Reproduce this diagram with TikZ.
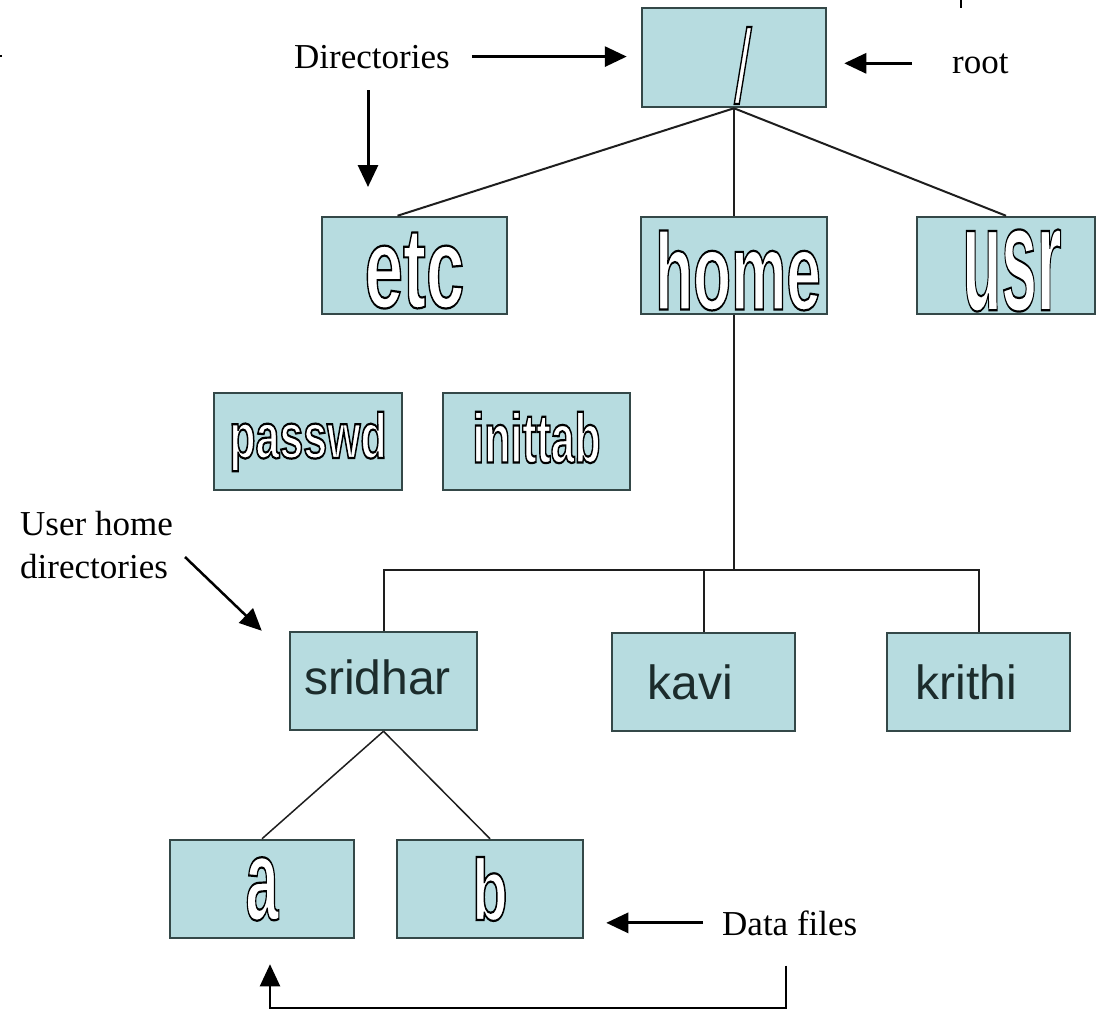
\documentclass[tikz,border=0pt]{standalone}
\usepackage{fontspec}
\setmainfont{Liberation Serif}
\setsansfont{Liberation Sans}
\usepackage{graphicx}
\usetikzlibrary{arrows.meta}

\definecolor{boxfill}{RGB}{183,220,224}
\definecolor{boxline}{RGB}{52,72,72}
\definecolor{nametext}{RGB}{28,44,44}
\definecolor{treeline}{RGB}{30,30,30}

% white letters with a dark rim (fill+stroke render mode), squeezed sideways
\newcommand{\hollow}[3]{\scalebox{#2}[1]{\fontsize{#1}{#1}\selectfont
  \special{pdf:literal direct 2 Tr 2.2 w 0 0 0 RG}#3\special{pdf:literal direct 0 Tr}}}
% move a label inside its box without changing the box size
\newcommand{\nudge}[2]{\raisebox{#1}[\height][\depth]{#2}}

\tikzset{
  fsbox/.style={draw=boxline, fill=boxfill, line width=2.5pt, inner sep=0pt,
    minimum height=97pt},
  hollowbox/.style={fsbox, text=white, font=\sffamily\bfseries},
  namebox/.style={fsbox, minimum height=98pt, text=nametext,
    font=\sffamily\fontsize{48}{48}\selectfont},
  note/.style={inner sep=0pt, font=\fontsize{35}{35}\selectfont},
  branch/.style={draw=treeline, line width=2pt},
  pointer/.style={line width=3pt, -{Triangle[length=22pt,width=20pt]}}
}

\begin{document}
\begin{tikzpicture}[x=1pt,y=-1pt]
\useasboundingbox (0,0) rectangle (1096,1009);

% top level
\node[hollowbox, minimum width=184pt, minimum height=99pt] (root) at (734,57.5)
  {\hspace*{18pt}\nudge{-8pt}{\mdseries\hollow{105}{0.6}{/}}};
\node[hollowbox, minimum width=185pt] (etc) at (414.5,265.5)
  {\nudge{-5pt}{\hollow{115}{0.6}{etc}}};
\node[hollowbox, minimum width=186pt] (home) at (734,265.5)
  {\hspace*{8pt}\nudge{-5pt}{\hollow{109}{0.57}{home}}};
\node[hollowbox, minimum width=178pt] (usr) at (1006,265.5)
  {\hspace*{12pt}\nudge{-5pt}{\hollow{150}{0.425}{usr}}};

% files in etc
\node[hollowbox, minimum width=188pt] (passwd) at (308,441.5)
  {\hollow{64}{0.67}{passwd}};
\node[hollowbox, minimum width=187pt] (inittab) at (536.5,441.5)
  {\nudge{4pt}{\hollow{70}{0.61}{inittab}}};

% home directories
\node[namebox, minimum width=187pt] (sridhar) at (383.5,681)
  {\nudge{4pt}{sridhar}\hspace*{12pt}};
\node[namebox, minimum width=183pt] (kavi) at (703.5,682)
  {kavi\hspace*{27pt}};
\node[namebox, minimum width=183pt] (krithi) at (978.5,682)
  {krithi\hspace*{24pt}};

% files in sridhar
\node[hollowbox, minimum width=184pt, minimum height=98pt] (a) at (262,889)
  {\hollow{116}{0.51}{a}};
\node[hollowbox, minimum width=186pt, minimum height=98pt] (b) at (490,889)
  {\hollow{87}{0.66}{b}};

% tree lines
\draw[branch] (root.south) -- ([xshift=-17pt]etc.north);
\draw[branch] (root.south) -- (home.north);
\draw[branch] (root.south) -- (usr.north);
\draw[branch] (home.south) -- ++(0,255) coordinate (bus);
\draw[branch] (sridhar.north) |- (bus) -| (krithi.north);
\draw[branch] (kavi.north) -- (kavi.north |- bus);
\draw[branch, line width=1.5pt] (sridhar.south) -- (a.north);
\draw[branch, line width=1.5pt] (sridhar.south) -- (b.north);

% notes
\node[note, anchor=base west] (dirs) at (294,68) {Directories};
\node[note, anchor=base west] (rootnote) at (952,73) {root};
\node[note, anchor=north west, align=left, font=\fontsize{35}{43}\selectfont]
  (homes) at (20,511) {User home\\directories};
\node[note, anchor=base west] (datanote) at (722,935) {Data files};

\coordinate (dirtail) at (368,90);
\coordinate (dirhead) at (368,187);

\draw[pointer] ([xshift=22pt]dirs.east) -- ([xshift=-14pt]dirs.east -| root.west);
\draw[pointer] (dirtail) -- (dirhead);
\draw[pointer] ([xshift=-40pt]rootnote.west) -- ([xshift=17pt]rootnote.west -| root.east);
\draw[pointer, line width=2.5pt] ([shift={(12pt,-12pt)}]homes.east) -- ([xshift=-27pt]sridhar.north west);
\draw[pointer] ([xshift=-19pt]datanote.west) -- ([xshift=22pt]datanote.west -| b.east);
\draw[pointer, line width=2pt] ([xshift=-4pt,yshift=-30pt]datanote.south) -- ++(0,42)
  -| ([xshift=8pt,yshift=-25pt]a.south);

% stray marks at the edges
\draw[line width=1.5pt] (961,0) -- (961,8);
\fill (0,55) rectangle (2,57);
\end{tikzpicture}
\end{document}
